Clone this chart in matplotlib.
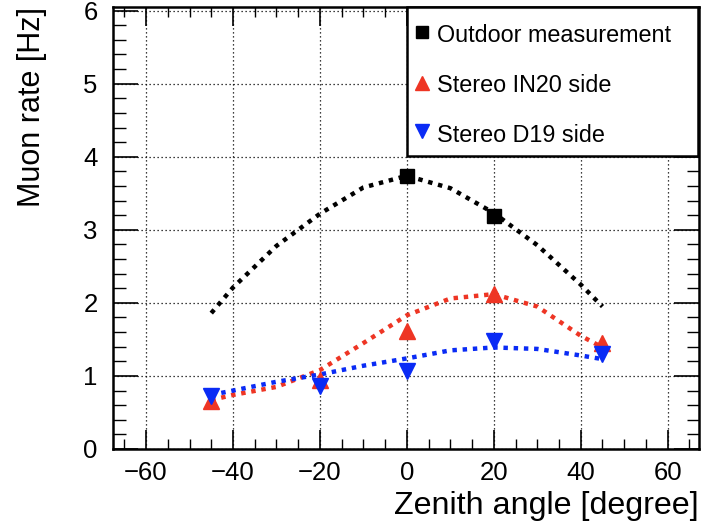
import numpy as np
import matplotlib
matplotlib.use("Agg")
import matplotlib.pyplot as plt
from matplotlib.ticker import MultipleLocator
from matplotlib.patches import Rectangle

plt.rcParams['font.family'] = ['Liberation Sans', 'DejaVu Sans']

# measured points
out_x = [0, 20]
out_y = [3.73, 3.19]
in20_x = [-45, -20, 0, 20, 45]
in20_y = [0.66, 0.95, 1.61, 2.12, 1.45]
d19_x = [-45, -20, 0, 20, 45]
d19_y = [0.73, 0.86, 1.07, 1.48, 1.30]

# fit curves
fit_x = [-45, -40, -30, -20, -10, 0, 10, 20, 30, 40, 45]
fit_out = [1.86, 2.21, 2.78, 3.22, 3.58, 3.74, 3.57, 3.23, 2.79, 2.25, 1.95]
fit_in20 = [0.67, 0.74, 0.85, 1.08, 1.45, 1.83, 2.06, 2.12, 1.95, 1.55, 1.39]
fit_d19 = [0.74, 0.80, 0.92, 1.02, 1.14, 1.24, 1.35, 1.39, 1.37, 1.28, 1.23]

labels = ["Outdoor measurement", "Stereo IN20 side", "Stereo D19 side"]
x_ticks = [-60, -40, -20, 0, 20, 40, 60]
y_ticks = [0, 1, 2, 3, 4, 5, 6]

c_black = "#000000"
c_red = "#ee3524"
c_blue = "#0a2bf5"

W, H = 702, 530
AX_L, AX_R, AX_T, AX_B = 113, 699, 7, 449
fig = plt.figure(figsize=(W/100, H/100), dpi=100)
ax = fig.add_axes([AX_L/W, 1-AX_B/H, (AX_R-AX_L)/W, (AX_B-AX_T)/H])

ax.set_xlim(-67.6, 67.2)
ax.set_ylim(0, 6.05)

# grid
ax.set_xticks(x_ticks)
ax.set_yticks(y_ticks)
ax.xaxis.set_minor_locator(MultipleLocator(5))
ax.yaxis.set_minor_locator(MultipleLocator(0.2))
ax.grid(True, which='major', color='black', linestyle=(0, (1, 2.2)), linewidth=0.9)
ax.set_axisbelow(True)

dots = (0, (1.0, 1.3))
ax.plot(fit_x, fit_out, color=c_black, lw=3.2, linestyle=dots, zorder=3)
ax.plot(fit_x, fit_in20, color=c_red, lw=3.2, linestyle=dots, zorder=3)
ax.plot(fit_x, fit_d19, color=c_blue, lw=3.2, linestyle=dots, zorder=3)

ax.plot(out_x, out_y, 's', color=c_black, ms=10, zorder=5, linestyle='none')
ax.plot(in20_x, in20_y, '^', color=c_red, ms=12, zorder=5, linestyle='none')
ax.plot(d19_x, d19_y, 'v', color=c_blue, ms=12, zorder=6, linestyle='none')

# ticks
ax.tick_params(axis='both', which='both', direction='in', top=True, right=True,
               labelsize=18.5, colors='black')
ax.tick_params(axis='x', which='major', length=14, width=1.2, pad=9)
ax.tick_params(axis='x', which='minor', length=7, width=1.0)
ax.tick_params(axis='y', which='major', length=18, width=1.2, pad=11)
ax.tick_params(axis='y', which='minor', length=9, width=1.0)
ax.set_xticklabels([str(v).replace('-', '\u2212') for v in x_ticks])
ax.set_yticklabels([str(v) for v in y_ticks])
for s in ax.spines.values():
    s.set_linewidth(1.8)

ax.set_xlabel("Zenith angle [degree]", fontsize=23.2, loc='right', labelpad=4)
ax.set_ylabel("Muon rate [Hz]", fontsize=22, loc='top', labelpad=26)

# legend (ROOT-style box), positioned in pixel coordinates of the axes
def ax_frac(px, py):
    return ((px - AX_L) / (AX_R - AX_L), (AX_B - py) / (AX_B - AX_T))

x0, y0 = ax_frac(407, 156)
x1, y1 = ax_frac(698, 7)
ax.add_patch(Rectangle((x0, y0), x1 - x0, y1 - y0, transform=ax.transAxes,
                       facecolor='white', edgecolor='black', linewidth=1.8,
                       zorder=10, clip_on=False))
leg_markers = [('s', c_black, 8), ('^', c_red, 10), ('v', c_blue, 10)]
row_text_y = [35, 86, 135]
row_mark_y = [32, 83, 131]
for (m, c, ms), lab, ty, my in zip(leg_markers, labels, row_text_y, row_mark_y):
    mx, myf = ax_frac(422, my)
    ax.plot([mx], [myf], marker=m, color=c, ms=ms, linestyle='none',
            transform=ax.transAxes, zorder=11, clip_on=False)
    tx, tyf = ax_frac(437, ty)
    ax.text(tx, tyf, lab, transform=ax.transAxes, fontsize=16.8,
            ha='left', va='center', zorder=11)

fig.savefig("out.png", dpi=100)
